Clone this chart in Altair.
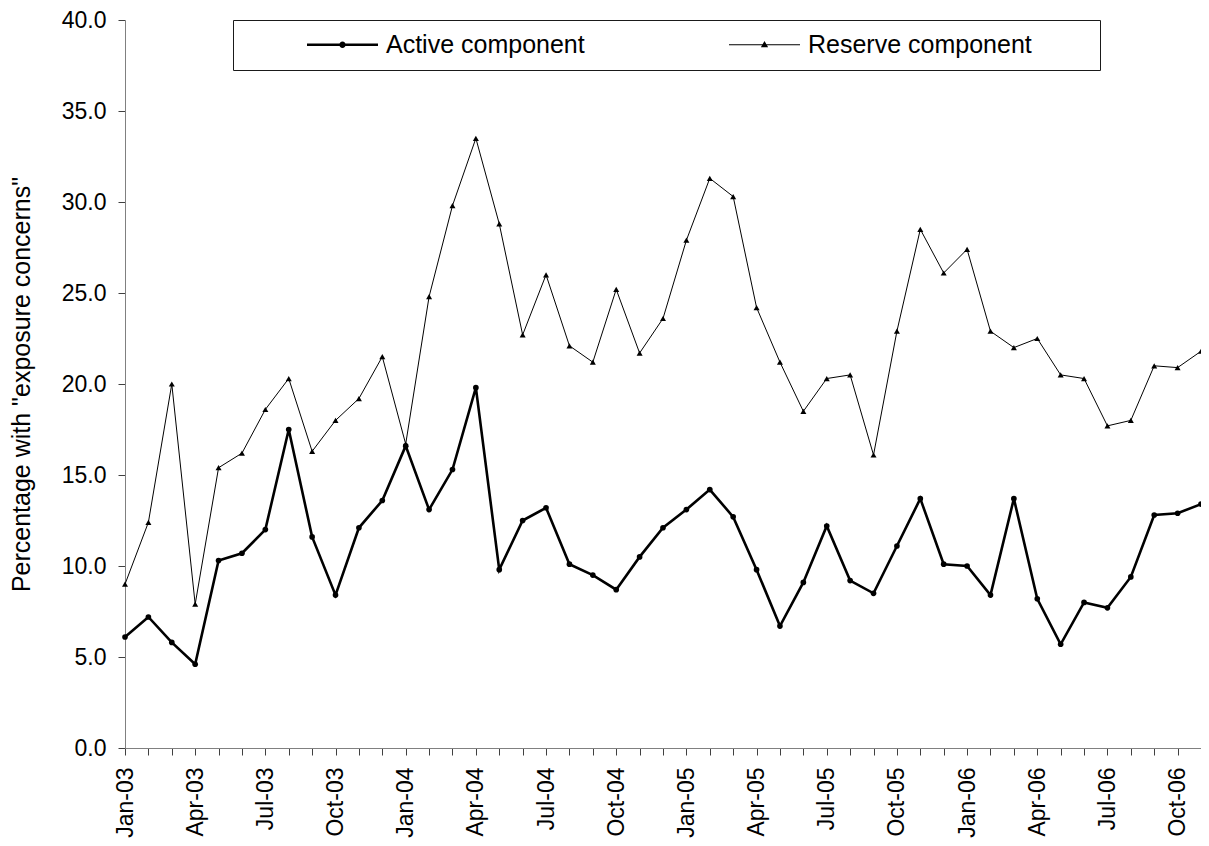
import altair as alt
import pandas as pd

months = [
    "Jan-03", "Feb-03", "Mar-03", "Apr-03", "May-03", "Jun-03", "Jul-03", "Aug-03", "Sep-03", "Oct-03", "Nov-03", "Dec-03",
    "Jan-04", "Feb-04", "Mar-04", "Apr-04", "May-04", "Jun-04", "Jul-04", "Aug-04", "Sep-04", "Oct-04", "Nov-04", "Dec-04",
    "Jan-05", "Feb-05", "Mar-05", "Apr-05", "May-05", "Jun-05", "Jul-05", "Aug-05", "Sep-05", "Oct-05", "Nov-05", "Dec-05",
    "Jan-06", "Feb-06", "Mar-06", "Apr-06", "May-06", "Jun-06", "Jul-06", "Aug-06", "Sep-06", "Oct-06", "Nov-06",
]

active = [6.1, 7.2, 5.8, 4.6, 10.3, 10.7, 12.0, 17.5, 11.6, 8.4, 12.1, 13.6,
          16.6, 13.1, 15.3, 19.8, 9.8, 12.5, 13.2, 10.1, 9.5, 8.7, 10.5, 12.1,
          13.1, 14.2, 12.7, 9.8, 6.7, 9.1, 12.2, 9.2, 8.5, 11.1, 13.7, 10.1,
          10.0, 8.4, 13.7, 8.2, 5.7, 8.0, 7.7, 9.4, 12.8, 12.9, 13.4]

reserve = [9.0, 12.4, 20.0, 7.9, 15.4, 16.2, 18.6, 20.3, 16.3, 18.0, 19.2, 21.5,
           16.7, 24.8, 29.8, 33.5, 28.8, 22.7, 26.0, 22.1, 21.2, 25.2, 21.7, 23.6,
           27.9, 31.3, 30.3, 24.2, 21.2, 18.5, 20.3, 20.5, 16.1, 22.9, 28.5, 26.1,
           27.4, 22.9, 22.0, 22.5, 20.5, 20.3, 17.7, 18.0, 21.0, 20.9, 21.8]

series_names = ["Active component", "Reserve component"]
y_ticks = [0, 5, 10, 15, 20, 25, 30, 35, 40]

df = pd.DataFrame({
    "month": months * 2,
    "series": [series_names[0]] * len(months) + [series_names[1]] * len(months),
    "value": active + reserve,
})

FONT = "Liberation Sans"

x_enc = alt.X(
    "month:O",
    sort=months,
    scale=alt.Scale(type="point", padding=0),
    axis=alt.Axis(
        title=None,
        labelAngle=270,
        labelFontSize=23,
        labelFont=FONT,
        labelColor="black",
        labelPadding=12,
        tickSize=7,
        labelExpr="indexof(['Jan','Apr','Jul','Oct'], slice(datum.label, 0, 3)) >= 0 ? datum.label : ''",
        labelOverlap=False,
    ),
)
y_enc = alt.Y(
    "value:Q",
    scale=alt.Scale(domain=[0, 40], nice=False, zero=True),
    axis=alt.Axis(
        values=y_ticks,
        format=".1f",
        title='Percentage with "exposure concerns"',
        titleFontSize=25,
        titleFont=FONT,
        titleFontWeight="normal",
        titleColor="black",
        titleX=-104,
        titleY=364,
        titleAngle=270,
        titleAlign="center",
        titleBaseline="middle",
        labelFontSize=23,
        labelFont=FONT,
        labelColor="black",
        labelPadding=12,
        tickSize=7,
        grid=False,
    ),
)

base = alt.Chart(df).encode(x=x_enc, y=y_enc)

active_line = base.transform_filter(alt.datum.series == series_names[0]).mark_line(
    color="black", strokeWidth=2.6)
reserve_line = base.transform_filter(alt.datum.series == series_names[1]).mark_line(
    color="black", strokeWidth=1)
active_pts = base.transform_filter(alt.datum.series == series_names[0]).mark_point(
    shape="circle", filled=True, color="black", size=32, opacity=1)
reserve_pts = base.transform_filter(alt.datum.series == series_names[1]).mark_point(
    shape="triangle-up", filled=True, color="black", size=36, opacity=1)

# legend symbols: a line sample with the marker in its middle
# (custom symbol units are scaled by sqrt(symbolSize)/2 = 12.5 px)
path_active = ("M-1,-0.104L4.68,-0.104L4.68,0.104L-1,0.104Z"
               "M2.096,0A0.256,0.256,0,1,1,1.584,0A0.256,0.256,0,1,1,2.096,0Z")
path_reserve = ("M-1,-0.04L4.68,-0.04L4.68,0.04L-1,0.04Z"
                "M1.84,-0.3L2.13,0.2L1.55,0.2Z"
                "M27.7,0")

nb = "\u00a0"
legend_layer = base.mark_point(filled=True, color="black", opacity=0).encode(
    shape=alt.Shape(
        "series:N",
        scale=alt.Scale(domain=series_names, range=[path_active, path_reserve]),
        legend=alt.Legend(
            orient="none",
            legendX=108,
            legendY=0,
            direction="horizontal",
            columns=2,
            title=nb,
            titleOrient="left",
            titleFontSize=1,
            titlePadding=62,
            padding=12,
            strokeColor="#1a1a1a",
            fillColor="white",
            symbolSize=625,
            symbolStrokeWidth=0,
            symbolFillColor="black",
            symbolOpacity=1,
            labelFont=FONT,
            labelFontSize=25,
            labelColor="black",
            labelOffset=54,
            labelLimit=500,
            columnPadding=144,
        ),
    )
)

chart = alt.layer(
    reserve_line, active_line, reserve_pts, active_pts, legend_layer
).properties(
    width=1076,
    height=728,
    autosize=alt.AutoSizeParams(type="none"),
    padding={"left": 117, "top": 12, "right": 0, "bottom": 96},
    background="white",
).configure_view(
    stroke=None
).configure_axis(
    domainColor="#808080",
    tickColor="#404040",
    domainWidth=1,
)

chart.save("out.html", embed_options={"renderer": "svg", "actions": False})
